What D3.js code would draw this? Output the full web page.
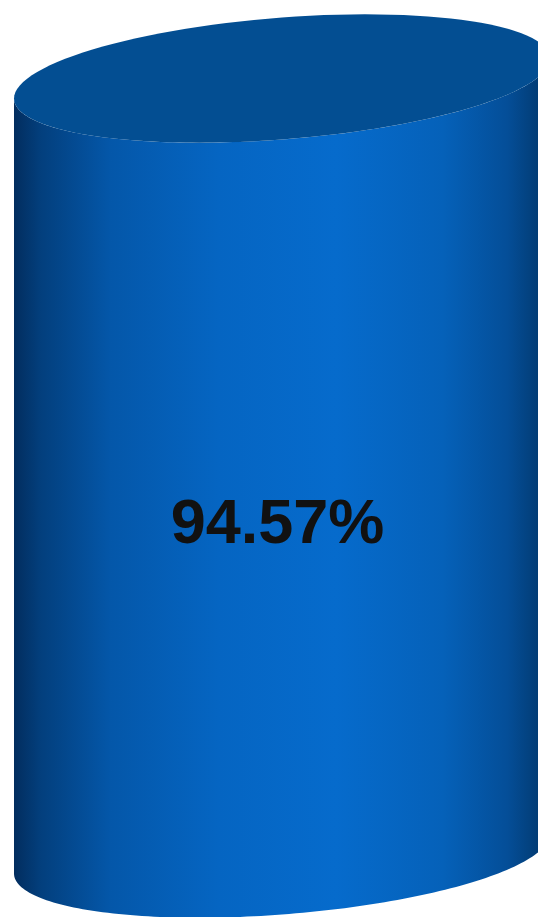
<!DOCTYPE html>
<html>
<head>
<meta charset="utf-8">
<script src="https://cdn.jsdelivr.net/npm/d3@7"></script>
<style>
    html, body { margin: 0; padding: 0; background: #ffffff; }
    #chart { width: 538px; height: 917px; overflow: hidden; }
    .valueLabel { font-family: "Liberation Sans", Arial, sans-serif; font-weight: bold; }
</style>
</head>
<body>
<div id="chart"></div>
<script>
'use strict';

// Data
const labels = ['Completion'];
const values = [94.57];
const scaleMax = [100];

class Cylinder {

    constructor(_labels, _values, _ref) {
        this.labels = _labels;
        this.values = _values;
        this.parent = _ref;

        this.initVis();
    }

    initVis() {
        // Get this vis
        const vis = this;

        // Config
        vis.w = 538;
        vis.h = 917;

        // Build svg
        vis.svg = d3.select(`#${vis.parent}`)
            .append('svg')
            .attr('width', vis.w)
            .attr('height', vis.h);

        // Ellipse shape (half width, tilt, half depth)
        vis.rx = 268;
        vis.tilt = 20;
        vis.ry = 61;
        vis.cx = 282;

        // Init xScale (horizontal extent of the column)
        vis.xScale = d3.scaleLinear()
            .domain([-1, 1])
            .range([vis.cx - vis.rx, vis.cx + vis.rx]);

        // Init yScale (value -> centre of the ellipse)
        vis.yScale = d3.scaleLinear()
            .domain([0, scaleMax[0]])
            .range([853.5, 34]);

        // Gradient for the side
        const defs = vis.svg.append('defs');
        const grad = defs.append('linearGradient')
            .attr('id', 'sideGrad')
            .attr('gradientUnits', 'userSpaceOnUse')
            .attr('x1', vis.xScale(-1))
            .attr('x2', vis.xScale(1))
            .attr('y1', 0)
            .attr('y2', 0);
        [
            [0, '#022d5e'],
            [0.05, '#033f7d'],
            [0.18, '#0457a9'],
            [0.38, '#0565c2'],
            [0.6, '#066bcc'],
            [0.8, '#0561b9'],
            [0.92, '#044e98'],
            [1, '#023668']
        ].forEach(s => grad.append('stop')
            .attr('offset', s[0])
            .attr('stop-color', s[1]));

        vis.g = vis.svg.append('g');

        // Line maker
        vis.line = d3.line()
            .x(d => d[0])
            .y(d => d[1]);

        vis.wrangleData();
    }

    // Point on the ellipse centred at cy, parameter t
    pt(cy, t) {
        const vis = this;
        return [
            vis.xScale(Math.cos(t)),
            cy - vis.tilt * Math.cos(t) + vis.ry * Math.sin(t)
        ];
    }

    arc(cy, t0, t1) {
        const vis = this;
        return d3.range(0, 121).map(i => vis.pt(cy, t0 + (t1 - t0) * i / 120));
    }

    wrangleData() {
        const vis = this;

        vis.displayData = vis.labels.map((l, i) => ({label: l, value: vis.values[i]}));

        vis.updateVis();
    }

    updateVis() {
        const vis = this;
        const y0 = vis.yScale(0);

        vis.displayData.forEach(d => {
            const yTop = vis.yScale(d.value);

            // Side: bottom front arc (left -> right), then top front arc (right -> left)
            const side = vis.arc(y0, Math.PI, 0).concat(vis.arc(yTop, 0, Math.PI));
            vis.g.append('path')
                .attr('class', 'side')
                .attr('d', vis.line(side) + 'Z')
                .attr('fill', 'url(#sideGrad)');

            // Lid
            vis.g.append('path')
                .attr('class', 'lid')
                .attr('d', vis.line(vis.arc(yTop, 0, 2 * Math.PI)) + 'Z')
                .attr('fill', '#034e92');

            // Label
            vis.g.append('text')
                .attr('class', 'valueLabel')
                .attr('x', vis.cx - 4.5)
                .attr('y', vis.yScale(d.value * 0.40))
                .attr('text-anchor', 'middle')
                .attr('font-size', 63)
                .attr('fill', '#111111')
                .text(`${d.value.toFixed(2)}%`);
        });
    }
}

const cyl = new Cylinder(labels, values, 'chart');
</script>
</body>
</html>
